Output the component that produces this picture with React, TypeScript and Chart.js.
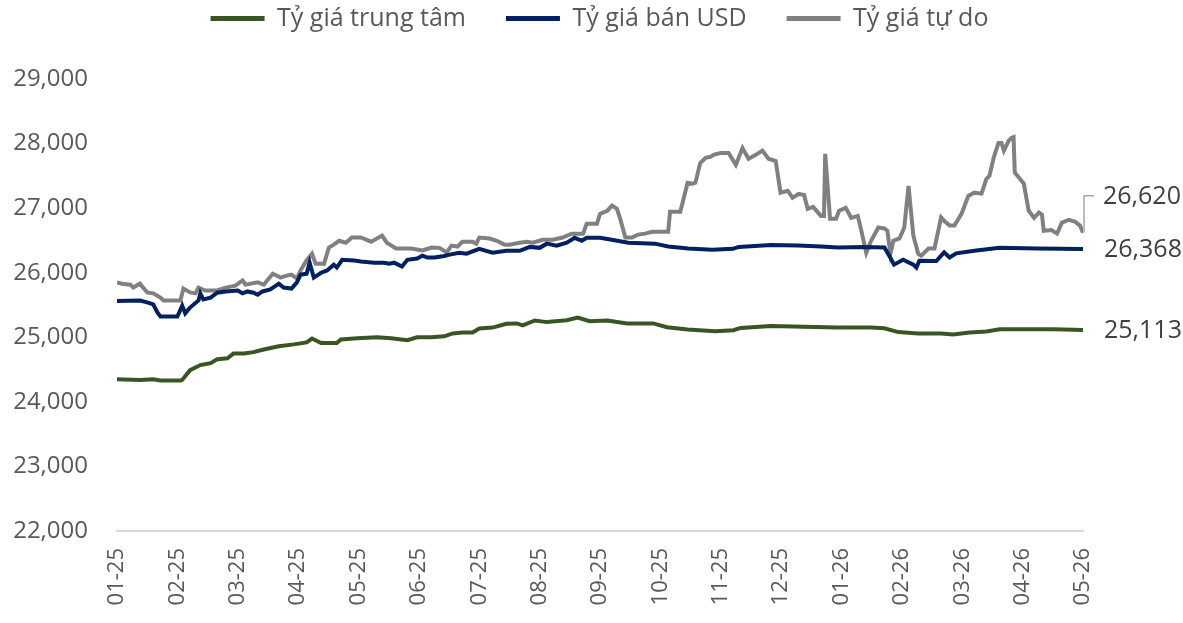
import React, { useEffect, useRef } from 'react';
import { Chart, registerables } from 'chart.js';
Chart.register(...registerables);

const FONT = "'Open Sans', sans-serif";

const monthLabels = ['01-25', '02-25', '03-25', '04-25', '05-25', '06-25', '07-25', '08-25', '09-25', '10-25', '11-25', '12-25', '01-26', '02-26', '03-26', '04-26', '05-26'];

const seriesNames = ['Tỷ giá trung tâm', 'Tỷ giá bán USD', 'Tỷ giá tự do'];
const seriesColors = ['#375623', '#002060', '#808080'];

const yMin = 22000;
const yMax = 29000;
const yStep = 1000;

// time in months since 01-2025
const centralT = [0, 0.38, 0.6, 0.72, 1.05, 1.08, 1.21, 1.38, 1.55, 1.66, 1.83, 1.93, 2.1, 2.26, 2.43, 2.68, 2.93, 3.14, 3.23, 3.38, 3.64, 3.71, 3.98, 4.31, 4.54, 4.81, 4.97, 5.21, 5.42, 5.56, 5.72, 5.89, 6.0, 6.22, 6.45, 6.62, 6.72, 6.92, 7.12, 7.45, 7.63, 7.83, 8.12, 8.45, 8.88, 9.11, 9.45, 9.91, 10.21, 10.33, 10.83, 11.38, 11.94, 12.49, 12.71, 12.94, 13.27, 13.65, 13.85, 14.12, 14.4, 14.62, 14.95, 15.52, 16.0];
const centralRate = [24350, 24340, 24350, 24330, 24330, 24340, 24490, 24570, 24600, 24660, 24675, 24750, 24750, 24770, 24810, 24860, 24890, 24920, 24980, 24910, 24910, 24965, 24985, 25000, 24985, 24955, 25000, 25000, 25015, 25060, 25075, 25075, 25135, 25150, 25210, 25215, 25185, 25260, 25235, 25265, 25305, 25250, 25260, 25215, 25215, 25155, 25120, 25095, 25110, 25145, 25175, 25165, 25150, 25150, 25140, 25080, 25060, 25060, 25045, 25075, 25090, 25125, 25125, 25125, 25113];

const sellT = [0, 0.38, 0.5, 0.6, 0.67, 0.72, 1.0, 1.08, 1.13, 1.21, 1.35, 1.38, 1.43, 1.55, 1.66, 1.8, 2.0, 2.08, 2.16, 2.26, 2.33, 2.41, 2.54, 2.68, 2.76, 2.89, 2.98, 3.04, 3.14, 3.19, 3.26, 3.38, 3.48, 3.59, 3.64, 3.73, 3.93, 4.04, 4.26, 4.42, 4.51, 4.59, 4.72, 4.81, 4.97, 5.06, 5.14, 5.26, 5.42, 5.51, 5.67, 5.79, 6.0, 6.22, 6.45, 6.67, 6.84, 7.0, 7.12, 7.28, 7.45, 7.58, 7.7, 7.78, 8.0, 8.17, 8.47, 8.91, 9.13, 9.46, 9.86, 10.2, 10.3, 10.83, 11.28, 11.66, 11.94, 12.37, 12.71, 12.79, 12.87, 13.02, 13.19, 13.24, 13.29, 13.57, 13.7, 13.79, 13.9, 14.2, 14.62, 15.24, 16.0];
const sellRate = [25560, 25570, 25540, 25510, 25385, 25320, 25320, 25490, 25370, 25460, 25570, 25680, 25585, 25615, 25690, 25710, 25725, 25680, 25710, 25690, 25660, 25710, 25740, 25830, 25770, 25755, 25850, 25970, 25985, 26155, 25925, 26000, 26035, 26125, 26080, 26200, 26190, 26175, 26155, 26155, 26140, 26155, 26095, 26200, 26220, 26265, 26235, 26235, 26260, 26280, 26310, 26295, 26370, 26310, 26340, 26340, 26400, 26385, 26450, 26420, 26465, 26540, 26495, 26540, 26540, 26515, 26465, 26450, 26405, 26375, 26355, 26370, 26400, 26430, 26420, 26405, 26390, 26400, 26390, 26265, 26125, 26200, 26125, 26080, 26185, 26180, 26315, 26235, 26300, 26340, 26385, 26375, 26368];

const freeT = [0, 0.08, 0.22, 0.27, 0.38, 0.5, 0.6, 0.72, 0.77, 1.05, 1.1, 1.21, 1.3, 1.35, 1.46, 1.66, 1.8, 1.96, 2.08, 2.13, 2.33, 2.43, 2.58, 2.71, 2.81, 2.89, 2.98, 3.04, 3.14, 3.23, 3.29, 3.43, 3.51, 3.59, 3.68, 3.79, 3.89, 4.04, 4.21, 4.39, 4.47, 4.62, 4.87, 5.06, 5.21, 5.34, 5.46, 5.54, 5.64, 5.72, 5.89, 5.95, 6.0, 6.17, 6.29, 6.42, 6.5, 6.67, 6.79, 6.89, 7.05, 7.22, 7.38, 7.53, 7.72, 7.78, 7.95, 8.0, 8.12, 8.2, 8.28, 8.33, 8.42, 8.53, 8.63, 8.75, 8.86, 9.13, 9.16, 9.33, 9.45, 9.53, 9.58, 9.66, 9.75, 9.83, 9.88, 10.0, 10.13, 10.25, 10.36, 10.46, 10.58, 10.69, 10.79, 10.91, 10.99, 11.11, 11.19, 11.29, 11.38, 11.44, 11.53, 11.66, 11.71, 11.73, 11.81, 11.91, 11.96, 12.07, 12.16, 12.27, 12.32, 12.41, 12.49, 12.61, 12.71, 12.76, 12.81, 12.86, 12.96, 13.04, 13.11, 13.19, 13.27, 13.32, 13.44, 13.54, 13.65, 13.7, 13.79, 13.87, 13.99, 14.1, 14.2, 14.32, 14.4, 14.45, 14.52, 14.6, 14.65, 14.69, 14.77, 14.82, 14.85, 14.87, 14.94, 15.02, 15.1, 15.19, 15.27, 15.32, 15.35, 15.48, 15.57, 15.65, 15.77, 15.87, 15.95, 16.0];
const freeRate = [25850, 25830, 25815, 25770, 25830, 25695, 25680, 25615, 25570, 25570, 25755, 25695, 25680, 25770, 25725, 25725, 25770, 25800, 25880, 25815, 25850, 25815, 25985, 25925, 25955, 25970, 25910, 26035, 26190, 26295, 26140, 26140, 26390, 26435, 26495, 26465, 26545, 26545, 26480, 26575, 26465, 26375, 26375, 26345, 26390, 26385, 26315, 26420, 26405, 26480, 26480, 26450, 26545, 26530, 26495, 26435, 26435, 26465, 26480, 26465, 26510, 26510, 26545, 26605, 26605, 26760, 26760, 26910, 26960, 27040, 26990, 26850, 26545, 26545, 26590, 26605, 26635, 26635, 26945, 26945, 27390, 27380, 27395, 27700, 27780, 27795, 27825, 27855, 27855, 27670, 27930, 27765, 27825, 27890, 27765, 27730, 27240, 27270, 27160, 27220, 27205, 26990, 27020, 26880, 26880, 27840, 26835, 26835, 26960, 27005, 26850, 26880, 26685, 26310, 26495, 26700, 26685, 26650, 26295, 26495, 26530, 26700, 27345, 26575, 26295, 26265, 26375, 26375, 26855, 26805, 26730, 26730, 26915, 27190, 27240, 27225, 27455, 27500, 27780, 28010, 28010, 27890, 28045, 28090, 28100, 27550, 27470, 27380, 26960, 26850, 26930, 26900, 26650, 26660, 26605, 26775, 26820, 26790, 26730, 26620];

const toPoints = (t: number[], v: number[]) => t.map((x, i) => ({ x, y: v[i] }));

export default function App() {
  const ref = useRef<HTMLCanvasElement>(null);

  useEffect(() => {
    document.body.style.margin = '0';
    const fmt = (v: number) => v.toLocaleString('en-US');

    const legendShift = {
      id: 'legendShift',
      afterLayout(chart: any) {
        const lg = chart.legend;
        if (!lg) return;
        lg.left += 53;
        lg.right += 53;
        lg.top -= 38;
        lg.bottom -= 38;
      },
    };

    const endLabels = {
      id: 'endLabels',
      afterDatasetsDraw(chart: any) {
        const ctx = chart.ctx;
        ctx.save();
        ctx.font = `25px ${FONT}`;
        ctx.fillStyle = '#404040';
        ctx.textBaseline = 'middle';
        ctx.textAlign = 'left';
        chart.data.datasets.forEach((ds: any, i: number) => {
          const meta = chart.getDatasetMeta(i);
          const pt = meta.data[meta.data.length - 1];
          const val = ds.data[ds.data.length - 1].y;
          if (i === 2) {
            const ly = pt.y - 37;
            ctx.strokeStyle = '#a6a6a6';
            ctx.lineWidth = 1.5;
            ctx.beginPath();
            ctx.moveTo(pt.x + 1, pt.y);
            ctx.lineTo(pt.x + 1, ly);
            ctx.lineTo(pt.x + 11, ly);
            ctx.stroke();
            ctx.fillText(fmt(val), pt.x + 20, ly + 1);
          } else {
            ctx.fillText(fmt(val), pt.x + 21, pt.y + 1);
          }
        });
        ctx.restore();
      },
    };

    const chart = new Chart(ref.current as HTMLCanvasElement, {
      type: 'line',
      data: {
        datasets: [
          { label: seriesNames[0], data: toPoints(centralT, centralRate), borderColor: seriesColors[0], backgroundColor: seriesColors[0] },
          { label: seriesNames[1], data: toPoints(sellT, sellRate), borderColor: seriesColors[1], backgroundColor: seriesColors[1] },
          { label: seriesNames[2], data: toPoints(freeT, freeRate), borderColor: seriesColors[2], backgroundColor: seriesColors[2] },
        ].map((d) => ({ ...d, borderWidth: 4, pointRadius: 0, tension: 0, fill: false })),
      },
      options: {
        animation: false,
        responsive: true,
        maintainAspectRatio: false,
        locale: 'en-US',
        layout: { padding: { left: 10, right: 100, top: 4, bottom: 0 } },
        plugins: {
          tooltip: { enabled: false },
          legend: {
            position: 'top',
            labels: {
              font: { family: FONT, size: 25 },
              color: '#595959',
              boxWidth: 54,
              boxHeight: 5,
              padding: 40,
              generateLabels: (chart: any) =>
                chart.data.datasets.map((ds: any, i: number) => ({
                  text: ds.label,
                  fillStyle: ds.borderColor,
                  strokeStyle: ds.borderColor,
                  lineWidth: 0,
                  fontColor: '#595959',
                  datasetIndex: i,
                  hidden: false,
                })),
            },
          },
        },
        scales: {
          x: {
            type: 'linear',
            min: 0,
            max: monthLabels.length - 1,
            afterFit: (s: any) => { s.height = 92; },
            grid: { drawOnChartArea: false, drawTicks: false },
            border: { display: true, color: '#d9d9d9', width: 2 },
            ticks: {
              stepSize: 1,
              autoSkip: false,
              minRotation: 90,
              maxRotation: 90,
              padding: 17,
              color: '#595959',
              font: { family: FONT, size: 22 },
              callback: (v: any) => monthLabels[v] ?? '',
            },
          },
          y: {
            min: yMin,
            max: yMax,
            afterFit: (s: any) => { s.width = 107; },
            grid: { display: false },
            border: { display: false },
            ticks: {
              stepSize: yStep,
              padding: 21,
              color: '#595959',
              font: { family: FONT, size: 24 },
              callback: (v: any) => fmt(v),
            },
          },
        },
      },
      plugins: [legendShift, endLabels],
    } as any);

    return () => chart.destroy();
  }, []);

  return (
    <div style={{ width: 1183, height: 623, position: 'relative' }}>
      <canvas ref={ref} />
    </div>
  );
}
